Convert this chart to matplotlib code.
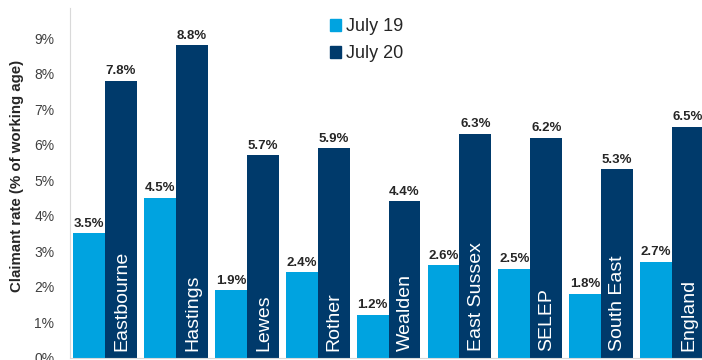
import matplotlib
matplotlib.use("Agg")
import matplotlib.pyplot as plt
from matplotlib.patches import Patch
import numpy as np

plt.rcParams['font.family'] = ['Liberation Sans', 'DejaVu Sans']

areas = ["Eastbourne", "Hastings", "Lewes", "Rother", "Wealden",
         "East Sussex", "SELEP", "South East", "England"]
july19 = [3.5, 4.5, 1.9, 2.4, 1.2, 2.6, 2.5, 1.8, 2.7]
july20 = [7.8, 8.8, 5.7, 5.9, 4.4, 6.3, 6.2, 5.3, 6.5]
yticks = [0, 1, 2, 3, 4, 5, 6, 7, 8, 9]

c19 = "#00A3E0"
c20 = "#003A6B"

W, H = 702, 360
fig = plt.figure(figsize=(W / 100, H / 100), dpi=100)
# axes spans x -0.5..8.5 with ~70.9 px per category
left_px, bottom_px, top_px = 69.6, 2.5, 8
ax = fig.add_axes([left_px / W, bottom_px / H, 638 / W, (H - bottom_px - top_px) / H])

x = np.arange(len(areas))
bw = 0.45
ax.bar(x - bw / 2, july19, width=bw, color=c19, label="July 19")
ax.bar(x + bw / 2, july20, width=bw, color=c20, label="July 20")

for xi, v in zip(x, july19):
    ax.text(xi - bw / 2, v + 0.1, f"{v:.1f}%", ha="center", va="bottom",
            fontsize=9.5, fontweight="bold", color="#262626")
for xi, v in zip(x, july20):
    ax.text(xi + bw / 2, v + 0.1, f"{v:.1f}%", ha="center", va="bottom",
            fontsize=9.5, fontweight="bold", color="#262626")

# area names written inside the July 20 bars
for xi, name in zip(x, areas):
    ax.text(xi + bw / 2 + 0.01, 0.18, name, rotation=90, ha="center", va="bottom",
            fontsize=14, color="white")

ax.set_xlim(-0.5, 8.5)
ax.set_ylim(0, 9.85)
ax.set_yticks(yticks)
ax.set_yticklabels([f"{t}%" for t in yticks], fontsize=10, color="#404040")
ax.set_xticks([])
ax.tick_params(axis="y", length=0, pad=11)
for s in ["top", "right"]:
    ax.spines[s].set_visible(False)
ax.spines["left"].set_color("#d9d9d9")
ax.spines["bottom"].set_color("#d9d9d9")

fig.text(17 / W, 1 - 176 / H, "Claimant rate (% of working age)", rotation=90,
         ha="center", va="center", fontsize=10.8, fontweight="bold", color="#262626")

handles = [Patch(color=c19, label="July 19"), Patch(color=c20, label="July 20")]
fig.legend(handles=handles, loc="upper left", bbox_to_anchor=(314 / W, 1 - 2 / H),
           frameon=False, fontsize=13, handlelength=0.6, handleheight=0.6,
           handletextpad=0.3, labelspacing=0.55, labelcolor="#262626")

fig.savefig("out.png", dpi=100)
